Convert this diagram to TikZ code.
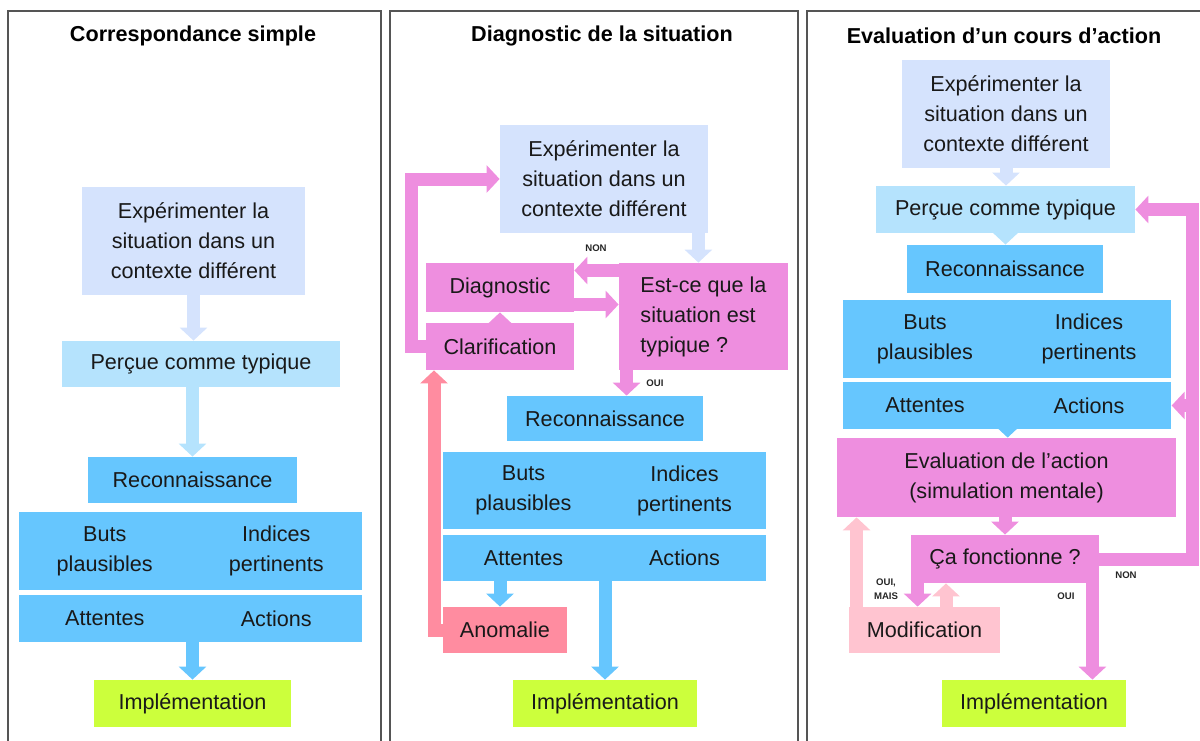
\documentclass[tikz,border=0pt]{standalone}
\usepackage{fontspec}
\setmainfont{Liberation Sans}
\usetikzlibrary{arrows.meta,calc,backgrounds}

\definecolor{lav}{HTML}{D5E3FD}
\definecolor{sky}{HTML}{B5E3FD}
\definecolor{blu}{HTML}{66C6FE}
\definecolor{pnk}{HTML}{EE8EDF}
\definecolor{sal}{HTML}{FF8CA0}
\definecolor{lpk}{HTML}{FFC4D0}
\definecolor{lim}{HTML}{CCFF3C}
\definecolor{rim}{HTML}{555555}

\tikzset{
  box/.style={rectangle, inner sep=0pt, align=center, text=black!90,
    font=\fontsize{10.8}{15}\selectfont},
  sz/.style 2 args={minimum width=#1*0.5pt, minimum height=#2*0.5pt},
  arr/.style={line width=6.5pt, line join=miter,
    -{Triangle[width=13.5pt,length=6.5pt]}},
  ttl/.style={font=\fontsize{10.8}{13}\selectfont\bfseries},
  lbl/.style={font=\fontsize{4.8}{7}\selectfont\bfseries, align=center, text=black!85},
  panel/.style={draw=rim, line width=0.8pt},
}

\begin{document}
\begin{tikzpicture}[x=0.5pt,y=-0.5pt]
  \useasboundingbox (0,0) rectangle (1200,740);

  % panels
  \draw[panel] (8,750) |- (381,11) -- (381,750);
  \draw[panel] (390,750) |- (798,11) -- (798,750);
  \draw[panel] (807,750) |- (1210,11);

  \node[ttl] (t1) at (193,36) {Correspondance simple};
  \node[ttl] (t2) at (602,36) {Diagnostic de la situation};
  \node[ttl] (t3) at (1004,36) {Evaluation d’un cours d’action};

  % correspondance simple
  \node[box, fill=lav, sz={223}{108}] (exp1) at (193.5,241) {Expérimenter la\\situation dans un\\contexte différent};
  \node[box, fill=sky, sz={278}{46}] (per1) at (201,364) {Perçue comme typique};
  \node[box, fill=blu, sz={209}{46}] (rec1) at (192.5,480) {Reconnaissance};
  \node[box, fill=blu, sz={172}{78}] (but1) at (104.75,551) {Buts\\plausibles};
  \node[box, fill=blu, sz={172}{78}] (ind1) at (276.25,551) {Indices\\pertinents};
  \node[box, fill=blu, sz={172}{47}] (att1) at (104.75,618.5) {Attentes};
  \node[box, fill=blu, sz={172}{47}] (act1) at (276.25,618.5) {Actions};
  \node[box, fill=lim, sz={197}{47}] (imp1) at (192.5,703.5) {Implémentation};

  % diagnostic
  \node[box, fill=lav, sz={208}{108}] (exp2) at (604,179) {Expérimenter la\\situation dans un\\contexte différent};
  \node[box, fill=pnk, sz={169}{107}, align=left] (est2) at (703.5,316.5) {Est-ce que la\\situation est\\typique ?};
  \node[box, fill=pnk, sz={148}{49}] (dia2) at (500,287.5) {Diagnostic};
  \node[box, fill=pnk, sz={148}{47}] (cla2) at (500,346.5) {Clarification};
  \node[box, fill=blu, sz={196}{45}] (rec2) at (605,418.5) {Reconnaissance};
  \node[box, fill=blu, sz={162}{77}] (but2) at (523.5,490.5) {Buts\\plausibles};
  \node[box, fill=blu, sz={162}{77}] (ind2) at (684.5,490.5) {Indices\\pertinents};
  \node[box, fill=blu, sz={162}{46}] (att2) at (523.5,558) {Attentes};
  \node[box, fill=blu, sz={162}{46}] (act2) at (684.5,558) {Actions};
  \node[box, fill=sal, sz={124}{46}] (ano2) at (505,630) {Anomalie};
  \node[box, fill=lim, sz={184}{47}] (imp2) at (605,703.5) {Implémentation};
  \node[lbl] (non2) at (596,248) {NON};
  \node[lbl] (oui2) at (655,383) {OUI};

  % evaluation
  \node[box, fill=lav, sz={208}{108}] (exp3) at (1006,114) {Expérimenter la\\situation dans un\\contexte différent};
  \node[box, fill=sky, sz={259}{47}] (per3) at (1005.5,209.5) {Perçue comme typique};
  \node[box, fill=blu, sz={196}{48}] (rec3) at (1005,269) {Reconnaissance};
  \node[box, fill=blu, sz={164.5}{78}] (but3) at (925,339) {Buts\\plausibles};
  \node[box, fill=blu, sz={164.5}{78}] (ind3) at (1089,339) {Indices\\pertinents};
  \node[box, fill=blu, sz={164.5}{47}] (att3) at (925,405.5) {Attentes};
  \node[box, fill=blu, sz={164.5}{47}] (act3) at (1089,405.5) {Actions};
  \node[box, fill=pnk, sz={339}{79}] (eva3) at (1006.5,477.5) {Evaluation de l’action\\(simulation mentale)};
  \node[box, fill=pnk, sz={188}{48}] (ca3) at (1005,559) {Ça fonctionne ?};
  \node[box, fill=lpk, sz={151}{46}] (mod3) at (924.5,630) {Modification};
  \node[box, fill=lim, sz={184}{47}] (imp3) at (1034,703.5) {Implémentation};
  \node[lbl] (non3) at (1126,575) {NON};
  \node[lbl] (oui3) at (1066,596) {OUI};
  \node[lbl] (mais3) at (886,589) {OUI,\\MAIS};

  \begin{scope}[on background layer]
    \draw[arr, lav] (exp1.south) -- (exp1.south |- per1.north);
    \draw[arr, sky] (rec1.north |- per1.south) -- (rec1.north);
    \draw[arr, blu] (imp1.north |- att1.south) -- (imp1.north);

    \coordinate (x2) at ($(exp2.south east)+(-10,0)$);
    \draw[arr, lav] (x2) -- (x2 |- est2.north);
    \coordinate (n2) at ($(dia2.east)+(0,-17)$);
    \draw[arr, pnk] (n2 -| est2.west) -- (n2);
    \coordinate (d2) at ($(dia2.east)+(0,17)$);
    \draw[arr, pnk] (d2) -- (d2 -| est2.west);
    \draw[arr, pnk] (cla2.north) -- (dia2.south);
    \draw[arr, pnk] (cla2.west) -- ++(-14,0) |- (exp2.west);
    \coordinate (o2) at ($(est2.south west)+(8,0)$);
    \draw[arr, pnk] (o2) -- (o2 |- rec2.north);
    \coordinate (a2) at ($(ano2.north)+(-5,0)$);
    \draw[arr, blu] (a2 |- att2.south) -- (a2);
    \coordinate (c2) at ($(cla2.south)+(-66,0)$);
    \draw[arr, sal] (ano2.west) -| (c2);
    \draw[arr, blu] (imp2.north |- act2.south) -- (imp2.north);

    \draw[arr, lav] (exp3.south) -- (exp3.south |- per3.north);
    \draw[arr, sky] (per3.south) -- (per3.south |- rec3.north);
    \draw[arr, blu] (att3.south east) -- (att3.south east |- eva3.north);
    \draw[arr, pnk] (ca3.north |- eva3.south) -- (ca3.north);
    \coordinate (r3) at ($(ca3.east)+(93,0)$);
    \draw[arr, pnk] (ca3.east) -- (r3) |- (per3.east);
    \draw[arr, pnk] (r3 |- act3.east) -- (act3.east);
    \coordinate (o3) at ($(ca3.south east)+(-7,0)$);
    \draw[arr, pnk] (o3) -- (o3 |- imp3.north);
    \coordinate (m3) at ($(ca3.south west)+(7,0)$);
    \draw[arr, pnk] (m3) -- (m3 |- mod3.north);
    \coordinate (u3) at ($(mod3.north)+(21.5,0)$);
    \draw[arr, lpk] (u3) -- (u3 |- ca3.south);
    \coordinate (v3) at ($(mod3.north west)+(8,0)$);
    \draw[arr, lpk] (v3) -- (v3 |- eva3.south);
  \end{scope}
\end{tikzpicture}
\end{document}
